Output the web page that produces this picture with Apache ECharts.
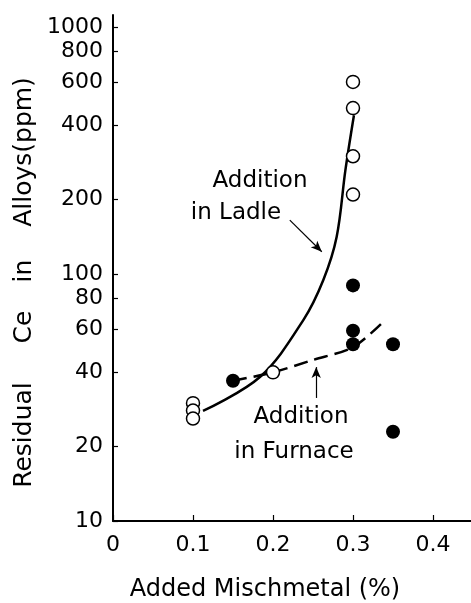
<!DOCTYPE html>
<html>
<head>
<meta charset="utf-8">
<script src="https://cdn.jsdelivr.net/npm/echarts@6/dist/echarts.min.js"></script>
<style>
  html, body { margin: 0; padding: 0; background: #fff; }
  #chart { width: 471px; height: 603px; }
</style>
</head>
<body>
<div id="chart"></div>
<script>
// Axis ticks
const xTicks = [0, 0.1, 0.2, 0.3, 0.4];
const yTicks = [10, 20, 40, 60, 80, 100, 200, 400, 600, 800, 1000];

// Measured residual Ce (ppm) versus added mischmetal (%)
const ladleX = [0.1, 0.1, 0.1, 0.2, 0.3, 0.3, 0.3, 0.3];
const ladleCe = [30, 28, 26, 40, 600, 470, 300, 210];
const furnaceX = [0.15, 0.3, 0.3, 0.3, 0.35, 0.35];
const furnaceCe = [37, 90, 59, 52, 52, 23];

// Trend curves drawn through the measurements
const ladleCurveX = [0.1125, 0.184, 0.2379, 0.2629, 0.2796, 0.2905, 0.3012];
const ladleCurveCe = [27.9, 38.4, 65.1, 94.6, 141.6, 263.6, 440];
const furnaceCurveX = [0.15, 0.2, 0.25, 0.3, 0.34];
const furnaceCurveCe = [37, 40, 44.9, 50.6, 65.1];

const zip = (xs, ys) => xs.map((x, i) => [x, ys[i]]);

const font = '"DejaVu Sans", sans-serif';
const chart = echarts.init(document.getElementById('chart'), null, { renderer: 'canvas' });

const textItem = (text, x, y, size, rotation) => ({
  type: 'text', x: x, y: y, rotation: rotation || 0,
  style: { text: text, fill: '#000', font: size + 'px ' + font, textAlign: 'center', textVerticalAlign: 'middle' }
});
const up = Math.PI / 2;

chart.setOption({
  animation: false,
  backgroundColor: '#fff',
  grid: { left: 113, right: 0, top: 15, bottom: 82, containLabel: false },
  xAxis: {
    type: 'value', min: 0, max: 0.4475, interval: 0.1,
    splitLine: { show: false },
    axisLine: { lineStyle: { color: '#000', width: 2 } },
    axisTick: { inside: true, length: 6, customValues: xTicks, lineStyle: { color: '#000', width: 1.2 } },
    axisLabel: { customValues: xTicks, color: '#000', fontFamily: font, fontSize: 22, margin: 13,
                 formatter: v => String(v) }
  },
  yAxis: {
    type: 'log', logBase: 10, min: 10, max: 1120,
    splitLine: { show: false },
    axisLine: { onZero: false, lineStyle: { color: '#000', width: 2 } },
    axisTick: { inside: true, length: 5, customValues: yTicks, lineStyle: { color: '#000', width: 1.2 } },
    axisLabel: { customValues: yTicks, color: '#000', fontFamily: font, fontSize: 22, margin: 10,
                 formatter: v => String(v) }
  },
  series: [
    {
      name: 'Addition in Ladle curve', type: 'line', data: zip(ladleCurveX, ladleCurveCe),
      smooth: 0.35, symbol: 'none', z: 2,
      lineStyle: { color: '#000', width: 2.5 },
      markLine: {
        silent: true, symbol: ['none', 'arrow'], symbolSize: [7, 11], label: { show: false },
        lineStyle: { color: '#000', width: 1.2, type: 'solid' },
        data: [
          [{ coord: [0.221, 165.4] }, { coord: [0.261, 123.1] }],
          [{ coord: [0.254, 31.5] }, { coord: [0.254, 42.0] }]
        ]
      }
    },
    {
      name: 'Addition in Furnace curve', type: 'line', data: zip(furnaceCurveX, furnaceCurveCe),
      smooth: 0.3, symbol: 'none', z: 2,
      lineStyle: { color: '#000', width: 2.5, type: [14, 7] }
    },
    {
      name: 'Addition in Ladle', type: 'scatter', data: zip(ladleX, ladleCe),
      symbol: 'circle', symbolSize: 13, z: 5,
      itemStyle: { color: '#fff', borderColor: '#000', borderWidth: 1.5, opacity: 1 }
    },
    {
      name: 'Addition in Furnace', type: 'scatter', data: zip(furnaceX, furnaceCe),
      symbol: 'circle', symbolSize: 14, z: 5,
      itemStyle: { color: '#000', borderColor: '#000', borderWidth: 0, opacity: 1 }
    }
  ],
  graphic: [
    textItem('Addition', 260, 181, 23),
    textItem('in Ladle', 236, 213, 23),
    textItem('Addition', 301, 417, 23),
    textItem('in Furnace', 294, 452, 23),
    textItem('Added Mischmetal (%)', 265, 590, 24),
    // Y-axis title, one word at a time, reading bottom to top
    textItem('Residual', 24, 435, 25, up),
    textItem('Ce', 24, 327, 25, up),
    textItem('in', 24, 271, 25, up),
    textItem('Alloys(ppm)', 24, 152, 25, up)
  ]
});
</script>
</body>
</html>
